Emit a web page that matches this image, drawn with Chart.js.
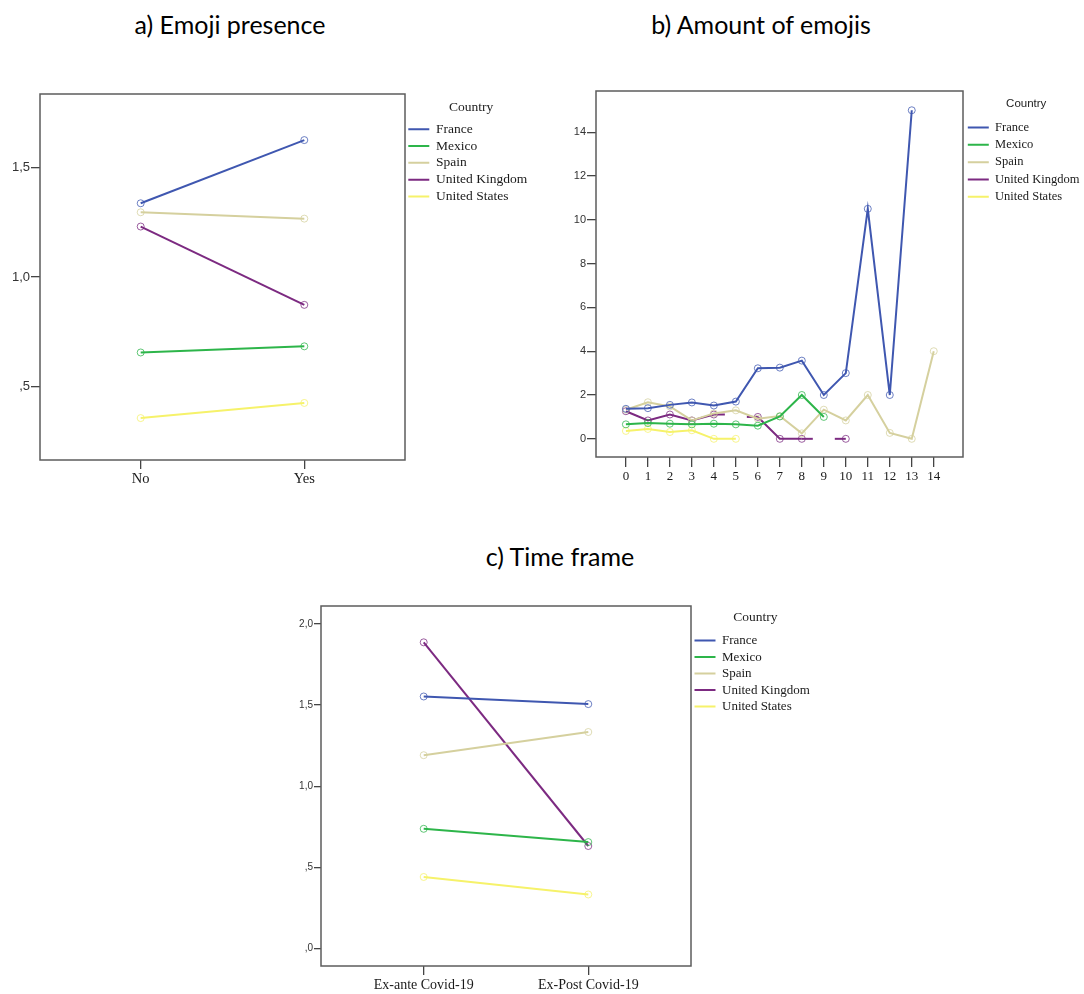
<!DOCTYPE html>
<html>
<head>
<meta charset="utf-8">
<script src="https://cdn.jsdelivr.net/npm/chart.js@4.4.1/dist/chart.umd.min.js"></script>
<style>
  body { margin: 0; background: #fff; width: 1084px; height: 994px; position: relative; overflow: hidden; }
  .title { position: absolute; font-family: Lato, 'Open Sans', sans-serif; font-size: 25px; line-height: 25px; color: #000; text-align: center; white-space: nowrap; }
  canvas { position: absolute; }
</style>
</head>
<body>
<div class="title" style="left:80px;top:12px;width:300px">a) Emoji presence</div>
<div class="title" style="left:611px;top:12px;width:300px">b) Amount of emojis</div>
<div class="title" style="left:410px;top:544px;width:300px">c) Time frame</div>

<canvas id="chartA" width="545" height="416" style="left:0;top:84px"></canvas>
<canvas id="chartB" width="540" height="416" style="left:556px;top:81px"></canvas>
<canvas id="chartC" width="540" height="398" style="left:270px;top:596px"></canvas>

<script>
const countries = ['France', 'Mexico', 'Spain', 'United Kingdom', 'United States'];
const colors = ['#3f57b0', '#2db54a', '#d5d09e', '#7c2a81', '#f6f26a'];

// a) Emoji presence
const presenceLabels = ['No', 'Yes'];
const presenceFrance = [1.336, 1.624];
const presenceMexico = [0.656, 0.684];
const presenceSpain = [1.295, 1.266];
const presenceUK = [1.230, 0.873];
const presenceUS = [0.357, 0.426];
const presenceTicks = [0.5, 1.0, 1.5];
const presenceTickLabels = [',5', '1,0', '1,5'];

// b) Amount of emojis (null = no cases)
const amountLabels = ['0', '1', '2', '3', '4', '5', '6', '7', '8', '9', '10', '11', '12', '13', '14'];
const amountFrance = [1.37, 1.40, 1.55, 1.66, 1.52, 1.70, 3.22, 3.25, 3.57, 2.00, 3.00, 10.50, 2.00, 15.00, null];
const amountMexico = [0.66, 0.72, 0.69, 0.66, 0.69, 0.66, 0.60, 1.02, 2.00, 1.00, null, null, null, null, null];
const amountSpain = [1.33, 1.67, 1.48, 0.84, 1.16, 1.30, 0.92, 1.04, 0.25, 1.33, 0.84, 2.00, 0.27, 0.00, 4.00];
const amountUK = [1.26, 0.84, 1.11, 0.84, 1.11, null, 1.00, 0.00, 0.00, null, 0.00, null, null, null, null];
const amountUS = [0.36, 0.45, 0.31, 0.39, 0.00, 0.00, null, null, null, null, null, null, null, null, null];
const amountTicks = [0, 2, 4, 6, 8, 10, 12, 14];
const amountTickLabels = ['0', '2', '4', '6', '8', '10', '12', '14'];

// c) Time frame
const timeLabels = ['Ex-ante Covid-19', 'Ex-Post Covid-19'];
const timeFrance = [1.553, 1.506];
const timeMexico = [0.737, 0.655];
const timeSpain = [1.191, 1.334];
const timeUK = [1.887, 0.631];
const timeUS = [0.440, 0.332];
const timeTicks = [0, 0.5, 1.0, 1.5, 2.0];
const timeTickLabels = [',0', ',5', '1,0', '1,5', '2,0'];

const serif = "'Liberation Serif', 'Times New Roman', serif";
const sans = "'Liberation Sans', Arial, sans-serif";

// box around the plot area, like SPSS draws it
const frame = {
  id: 'frame',
  beforeDatasetsDraw(chart) {
    const a = chart.chartArea;
    const ctx = chart.ctx;
    ctx.save();
    ctx.strokeStyle = '#5c5c5c';
    ctx.lineWidth = 1.5;
    ctx.strokeRect(a.left, a.top, a.right - a.left, a.bottom - a.top);
    ctx.restore();
  }
};

// SPSS leaves half a segment on each side of a missing category
const gapStubs = {
  id: 'gapStubs',
  beforeDatasetsDraw(chart) {
    const ctx = chart.ctx;
    const xs = chart.scales.x;
    const ys = chart.scales.y;
    chart.data.datasets.forEach(function (ds) {
      const pts = ds.data;
      let first = -1, last = -1;
      pts.forEach(function (p, i) {
        if (p.y !== null) { if (first < 0) first = i; last = i; }
      });
      ctx.save();
      ctx.strokeStyle = ds.borderColor;
      ctx.lineWidth = ds.borderWidth;
      for (let i = first + 1; i < last; i++) {
        if (pts[i].y !== null) continue;
        const prev = pts[i - 1], next = pts[i + 1];
        if (prev.y !== null) {
          ctx.beginPath();
          ctx.moveTo(xs.getPixelForValue(prev.x), ys.getPixelForValue(prev.y));
          ctx.lineTo(xs.getPixelForValue(prev.x + 0.5), ys.getPixelForValue(prev.y));
          ctx.stroke();
        }
        if (next.y !== null) {
          ctx.beginPath();
          ctx.moveTo(xs.getPixelForValue(next.x - 0.5), ys.getPixelForValue(next.y));
          ctx.lineTo(xs.getPixelForValue(next.x), ys.getPixelForValue(next.y));
          ctx.stroke();
        }
      }
      ctx.restore();
    });
  }
};

function makeDatasets(series) {
  return series.map(function (values, k) {
    return {
      label: countries[k],
      data: values.map(function (v, i) { return { x: i, y: v }; }),
      borderColor: colors[k],
      backgroundColor: colors[k],
      borderWidth: 2,
      pointRadius: 3.5,
      pointBorderWidth: 1,
      pointBackgroundColor: 'rgba(255,255,255,0)',
      pointBorderColor: colors[k] + 'c0',
      tension: 0,
      spanGaps: false
    };
  });
}

function xScale(min, max, labels, fontSize, tickLength, padding, height) {
  return {
    type: 'linear',
    min: min,
    max: max,
    afterBuildTicks: function (axis) {
      axis.ticks = labels.map(function (l, i) { return { value: i }; });
    },
    ticks: {
      autoSkip: false,
      maxRotation: 0,
      padding: padding,
      color: '#1a1a1a',
      font: { family: serif, size: fontSize },
      callback: function (v) { return labels[v]; }
    },
    grid: { drawOnChartArea: false, tickLength: tickLength, tickColor: '#444', lineWidth: 1.3 },
    border: { display: false },
    afterFit: function (axis) { axis.height = height; }
  };
}

function yScale(min, max, ticks, tickLabels, fontSize, tickLength, width) {
  return {
    type: 'linear',
    min: min,
    max: max,
    afterBuildTicks: function (axis) {
      axis.ticks = ticks.map(function (v) { return { value: v }; });
    },
    ticks: {
      padding: 1,
      color: '#333',
      font: { family: sans, size: fontSize },
      callback: function (v, i) { return tickLabels[i]; }
    },
    grid: { drawOnChartArea: false, tickLength: tickLength, tickColor: '#444', lineWidth: 1.3 },
    border: { display: false },
    afterFit: function (axis) { axis.width = width; }
  };
}

function legendOpts(titleFont, labelSize, padding, titlePadding) {
  return {
    position: 'right',
    align: 'start',
    title: { display: true, text: 'Country', color: '#222', font: titleFont, padding: titlePadding },
    labels: { boxWidth: 21, boxHeight: 0, padding: padding, color: '#1a1a1a', font: { family: serif, size: labelSize } }
  };
}

function drawChart(id, datasets, scales, legend, plugins) {
  return new Chart(document.getElementById(id), {
    type: 'line',
    data: { datasets: datasets },
    options: {
      responsive: false,
      animation: false,
      layout: { padding: { top: 10, right: 0, bottom: 0, left: 0 } },
      scales: scales,
      plugins: { legend: legend, tooltip: { enabled: false } }
    },
    plugins: plugins
  });
}

// move the legend so the plot box ends where it does in the original
function fitRight(chart, right) {
  chart.options.layout.padding.right += chart.chartArea.right - right;
  chart.update('none');
}

const chartA = drawChart('chartA',
  makeDatasets([presenceFrance, presenceMexico, presenceSpain, presenceUK, presenceUS]),
  {
    x: xScale(-0.6155, 1.6155, presenceLabels, 14.5, 9, 1, 40),
    y: yScale(0.166, 1.834, presenceTicks, presenceTickLabels, 13, 9, 40)
  },
  legendOpts({ family: serif, size: 13.5 }, 13.5, 3.3, { top: 7, bottom: 2 }),
  [frame]);
fitRight(chartA, 405);

const chartB = drawChart('chartB',
  makeDatasets([amountFrance, amountMexico, amountSpain, amountUK, amountUS]),
  {
    x: xScale(-1.36, 15.33, amountLabels, 13, 10, 2, 40),
    y: yScale(-0.83, 15.88, amountTicks, amountTickLabels, 11, 9, 40)
  },
  legendOpts({ family: sans, size: 11.5 }, 12.5, 4.8, { top: 7.4, bottom: 4.3 }),
  [frame, gapStubs]);
fitRight(chartB, 407);

const chartC = drawChart('chartC',
  makeDatasets([timeFrance, timeMexico, timeSpain, timeUK, timeUS]),
  {
    x: xScale(-0.624, 1.624, timeLabels, 14, 9, 2, 28),
    y: yScale(-0.109, 2.111, timeTicks, timeTickLabels, 10, 7, 51)
  },
  legendOpts({ family: serif, size: 13.5 }, 13, 3.5, { top: 4.9, bottom: 3.5 }),
  [frame]);
fitRight(chartC, 421);
</script>
</body>
</html>
